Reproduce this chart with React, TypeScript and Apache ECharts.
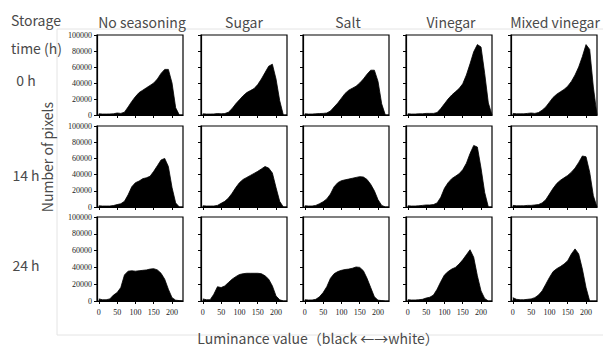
import React, { useEffect, useRef } from "react";
import * as echarts from "echarts";

// Shared luminance bins (x)
const luminance = [0, 10, 20, 30, 40, 50, 60, 70, 80, 90, 100, 110, 120, 130, 140, 150, 160, 170, 180, 190, 200, 210, 220, 230];
const xTickValues = [0, 50, 100, 150, 200];
const columnTitles = ["No seasoning", "Sugar", "Salt", "Vinegar", "Mixed vinegar"];
const rowLabels = ["0 h", "14 h", "24 h"];

// 0 h
const noSeasoning0h = [1500, 1200, 1200, 1300, 1500, 2500, 2000, 3500, 10000, 17000, 23000, 28000, 31000, 34000, 37000, 40000, 45000, 52000, 57000, 57000, 40000, 9000, 0, 0];
const sugar0h = [1500, 1200, 1200, 1300, 1800, 1500, 1800, 3500, 8000, 14000, 19000, 24000, 28000, 30500, 33000, 38000, 45000, 53000, 61000, 63500, 45000, 18000, 0, 0];
const salt0h = [1500, 1200, 1200, 1500, 1800, 2000, 2500, 5000, 10000, 15000, 21000, 27000, 31000, 33500, 36000, 40000, 45000, 51000, 56000, 56000, 42000, 14000, 0, 0];
const vinegar0h = [1500, 1200, 1200, 1500, 1500, 2000, 2000, 2000, 3000, 8000, 14000, 20000, 25000, 29000, 33000, 39000, 50000, 64000, 79000, 88000, 85000, 52000, 15000, 0];
const mixedVinegar0h = [2000, 1500, 1500, 1500, 2000, 2500, 2000, 3000, 6000, 10000, 16000, 22000, 26000, 29000, 32000, 36000, 42000, 50000, 60000, 73000, 88000, 82000, 35000, 0];

// 14 h
const noSeasoning14h = [1500, 1200, 1200, 1200, 1800, 3000, 4000, 7000, 15000, 25000, 30000, 32000, 35000, 36000, 38000, 44000, 51000, 58000, 60000, 50000, 24000, 5000, 0, 0];
const sugar14h = [1500, 1200, 1200, 1200, 2000, 4500, 7000, 11000, 17000, 24000, 30000, 34000, 36500, 39000, 41500, 44000, 47000, 50000, 48000, 42000, 24000, 7000, 0, 0];
const salt14h = [1500, 1200, 1200, 2000, 4000, 6500, 10000, 16000, 25000, 30000, 32500, 33500, 34500, 35500, 36500, 37500, 37000, 34000, 28000, 20000, 9000, 2000, 0, 0];
const vinegar14h = [1500, 1200, 1200, 1500, 2000, 2500, 2500, 3000, 5000, 12000, 23000, 30000, 35000, 38000, 41000, 46000, 54000, 66000, 76000, 74000, 48000, 18000, 0, 0];
const mixedVinegar14h = [2000, 1500, 1500, 1500, 2000, 2000, 2500, 3000, 5000, 9000, 16000, 23000, 29000, 33000, 36000, 39000, 43000, 48000, 55000, 63000, 62000, 43000, 14000, 0];

// 24 h
const noSeasoning24h = [2500, 1500, 1500, 2500, 7000, 10000, 16000, 31000, 35500, 36000, 35500, 36000, 36500, 37000, 38000, 38500, 37000, 33000, 26000, 14000, 4000, 1000, 500, 0];
const sugar24h = [2500, 1500, 1500, 8000, 17000, 16000, 18000, 22000, 26000, 29000, 31500, 32500, 33000, 33000, 33000, 33000, 32500, 30000, 26000, 18000, 6000, 1500, 0, 0];
const salt24h = [1500, 1200, 1200, 2000, 5000, 10000, 17000, 27000, 32500, 35000, 36500, 37500, 38000, 39000, 40500, 40000, 36000, 27000, 16000, 5000, 1000, 500, 0, 0];
const vinegar24h = [1500, 1200, 1200, 1500, 2000, 3500, 4500, 7000, 14000, 23000, 31000, 35000, 38000, 40000, 44000, 49000, 55000, 61000, 52000, 30000, 12000, 3000, 0, 0];
const mixedVinegar24h = [4000, 2000, 1500, 1500, 2000, 2500, 4000, 7000, 12000, 20000, 28000, 35000, 38500, 41000, 44000, 48000, 56000, 62000, 56000, 38000, 16000, 0, 0, 0];

const panels = [
  [noSeasoning0h, sugar0h, salt0h, vinegar0h, mixedVinegar0h],
  [noSeasoning14h, sugar14h, salt14h, vinegar14h, mixedVinegar14h],
  [noSeasoning24h, sugar24h, salt24h, vinegar24h, mixedVinegar24h],
];

const colLeft = [97, 201, 303, 406, 511];
const colCenter = [142, 244, 348, 451, 555];
const rowTop = [35, 126, 217];
const rowHeight = [80, 81, 84];
const rowLabelY = [80, 175, 265];
const panelWidth = 86;

const textFont = "'Noto Sans CJK JP', 'Noto Sans', sans-serif";
const textColor = "#4a4a4a";

export default function App() {
  const ref = useRef<HTMLDivElement>(null);
  useEffect(() => {
    if (!ref.current) return;
    const chart = echarts.init(ref.current, undefined, { renderer: "svg" });
    const grid: any[] = [];
    const xAxis: any[] = [];
    const yAxis: any[] = [];
    const series: any[] = [];
    panels.forEach((row, r) => {
      row.forEach((vals, c) => {
        const k = grid.length;
        grid.push({
          left: colLeft[c],
          top: rowTop[r],
          width: panelWidth,
          height: rowHeight[r],
          show: true,
          borderColor: "#000",
          borderWidth: 1.2,
          backgroundColor: "#fff",
        });
        xAxis.push({
          type: "value",
          gridIndex: k,
          min: -5,
          max: 230,
          axisLine: { show: true, onZero: false, lineStyle: { color: "#000", width: 1.2 } },
          axisTick: { show: true, length: 3, customValues: xTickValues, lineStyle: { color: "#000" } },
          axisLabel: {
            show: r === 2,
            customValues: xTickValues,
            fontSize: 8,
            color: "#222",
            margin: 7,
            fontFamily: "'Liberation Serif', serif",
          },
          splitLine: { show: false },
        });
        yAxis.push({
          type: "value",
          gridIndex: k,
          min: 0,
          max: 100000,
          interval: 20000,
          axisLine: { show: true, onZero: false, lineStyle: { color: "#000", width: 1.2 } },
          axisTick: { show: true, length: 3, lineStyle: { color: "#000" } },
          axisLabel: {
            show: c === 0,
            fontSize: 8,
            color: "#222",
            margin: 5,
            fontFamily: "'Liberation Serif', serif",
            formatter: (v: number) => String(v),
          },
          splitLine: { show: false },
        });
        series.push({
          type: "line",
          xAxisIndex: k,
          yAxisIndex: k,
          data: luminance.map((x, i) => [x, vals[i]]),
          symbol: "none",
          silent: true,
          lineStyle: { color: "#000", width: 0.8 },
          areaStyle: { color: "#000", opacity: 1 },
        });
      });
    });

    const graphic: any[] = [
      {
        type: "rect",
        shape: { x: 57, y: 29, width: 560, height: 306 },
        style: { fill: "none", stroke: "#e4e4e4", lineWidth: 1 },
        z: -10,
        silent: true,
      },
      {
        type: "text",
        left: 11,
        top: 13,
        style: { text: "Storage", fontSize: 14, fontFamily: textFont, fill: textColor },
      },
      {
        type: "text",
        left: 11,
        top: 41,
        style: { text: "time (h)", fontSize: 14, fontFamily: textFont, fill: textColor },
      },
      {
        type: "text",
        x: 47,
        y: 157,
        rotation: Math.PI / 2,
        style: {
          text: "Number of pixels",
          fontSize: 14,
          fontFamily: textFont,
          fill: textColor,
          align: "center",
          verticalAlign: "middle",
        },
      },
      {
        type: "text",
        x: 318,
        y: 338,
        style: {
          text: "Luminance value（black ←→white）",
          fontSize: 14,
          fontFamily: textFont,
          fill: textColor,
          align: "center",
          verticalAlign: "middle",
        },
      },
    ];
    columnTitles.forEach((t, c) => {
      graphic.push({
        type: "text",
        x: colCenter[c],
        y: 22,
        style: { text: t, fontSize: 14, fontFamily: textFont, fill: textColor, align: "center", verticalAlign: "middle" },
      });
    });
    rowLabels.forEach((t, r) => {
      graphic.push({
        type: "text",
        x: 26,
        y: rowLabelY[r],
        style: { text: t, fontSize: 14, fontFamily: textFont, fill: textColor, align: "center", verticalAlign: "middle" },
      });
    });

    chart.setOption({
      animation: false,
      backgroundColor: "#fff",
      grid,
      xAxis,
      yAxis,
      series,
      graphic,
    });
    return () => chart.dispose();
  }, []);
  return (
    <div
      ref={ref}
      style={{ position: "fixed", left: 0, top: 0, width: 603, height: 347 }}
    />
  );
}
